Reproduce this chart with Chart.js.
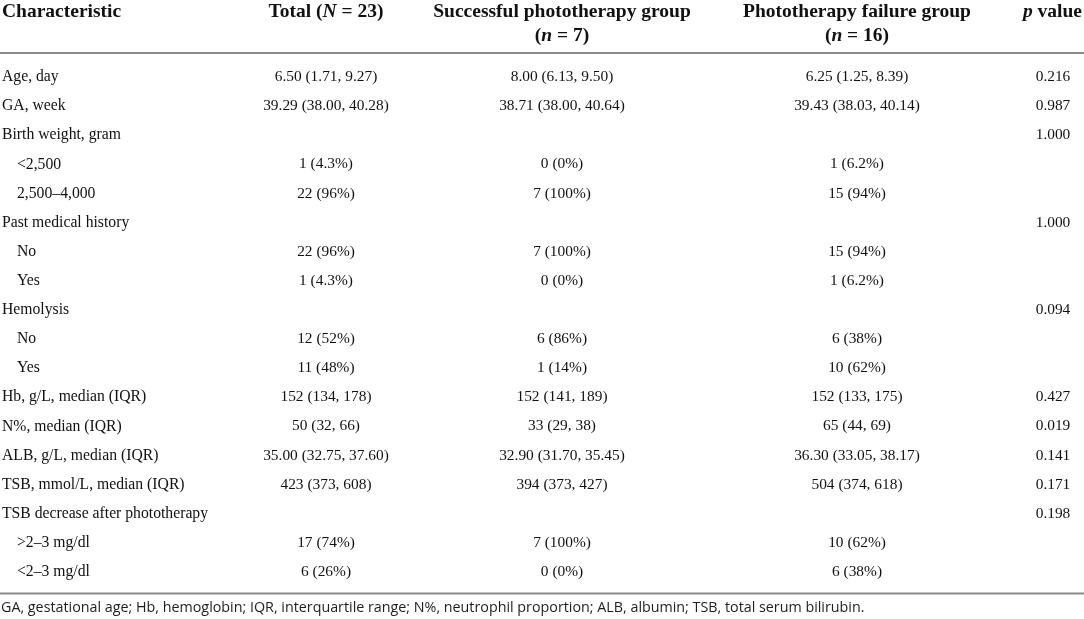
<!DOCTYPE html>
<html>
<head>
<meta charset="utf-8">
<script src="https://cdn.jsdelivr.net/npm/chart.js@4.4.1/dist/chart.umd.min.js"></script>
<style>
html,body{margin:0;padding:0;background:#ffffff;}
#wrap{width:1084px;height:619px;position:relative;}
</style>
</head>
<body>
<div id="wrap"><canvas id="c"></canvas></div>
<script>
// ---------- DATA ----------
const ROW_LABELS = [
  'Age, day', 'GA, week', 'Birth weight, gram', '<2,500', '2,500\u20134,000',
  'Past medical history', 'No', 'Yes', 'Hemolysis', 'No', 'Yes',
  'Hb, g/L, median (IQR)', 'N%, median (IQR)', 'ALB, g/L, median (IQR)',
  'TSB, mmol/L, median (IQR)', 'TSB decrease after phototherapy',
  '>2\u20133 mg/dl', '<2\u20133 mg/dl'
];
const ROW_LEVEL = [0,0,0,1,1,0,1,1,0,1,1,0,0,0,0,0,1,1];
const TOTAL = [
  '6.50 (1.71, 9.27)', '39.29 (38.00, 40.28)', '', '1 (4.3%)', '22 (96%)',
  '', '22 (96%)', '1 (4.3%)', '', '12 (52%)', '11 (48%)',
  '152 (134, 178)', '50 (32, 66)', '35.00 (32.75, 37.60)', '423 (373, 608)', '',
  '17 (74%)', '6 (26%)'
];
const SUCCESS = [
  '8.00 (6.13, 9.50)', '38.71 (38.00, 40.64)', '', '0 (0%)', '7 (100%)',
  '', '7 (100%)', '0 (0%)', '', '6 (86%)', '1 (14%)',
  '152 (141, 189)', '33 (29, 38)', '32.90 (31.70, 35.45)', '394 (373, 427)', '',
  '7 (100%)', '0 (0%)'
];
const FAILURE = [
  '6.25 (1.25, 8.39)', '39.43 (38.03, 40.14)', '', '1 (6.2%)', '15 (94%)',
  '', '15 (94%)', '1 (6.2%)', '', '6 (38%)', '10 (62%)',
  '152 (133, 175)', '65 (44, 69)', '36.30 (33.05, 38.17)', '504 (374, 618)', '',
  '10 (62%)', '6 (38%)'
];
const P_VALUES = [
  '0.216', '0.987', '1.000', '', '',
  '1.000', '', '', '0.094', '', '',
  '0.427', '0.019', '0.141', '0.171', '0.198',
  '', ''
];
const HEADERS = [
  [[{t:'Characteristic'}]],
  [[{t:'Total ('},{t:'N',i:true},{t:' = 23)'}]],
  [[{t:'Successful phototherapy group'}],[{t:'('},{t:'n',i:true},{t:' = 7)'}]],
  [[{t:'Phototherapy failure group'}],[{t:'('},{t:'n',i:true},{t:' = 16)'}]],
  [[{t:'p',i:true},{t:' value'}]]
];
const FOOTNOTE = 'GA, gestational age; Hb, hemoglobin; IQR, interquartile range; N%, neutrophil proportion; ALB, albumin; TSB, total serum bilirubin.';

// ---------- LAYOUT / STYLE ----------
const COL_WIDTHS = [210, 232, 240, 350, 42];
const CANVAS_W = 1084;
const SERIF = '"Liberation Serif", "Times New Roman", serif';
const BODY_FONT = '15.4px ' + SERIF;
const LABEL_FONT = '15.7px ' + SERIF;
const HEAD_SIZE = 19.5;
const TEXT_COLOR = '#111111';
const RULE_COLOR = '#8a8a8a';

function colCenter(k){
  let s = 0;
  for (let j = 0; j < k; j++) s += COL_WIDTHS[j];
  return s + COL_WIDTHS[k] / 2;
}

const COLUMNS = [TOTAL, SUCCESS, FAILURE, P_VALUES];

const tablePlugin = {
  id: 'tableText',
  afterDatasetsDraw(chart){
    const ctx = chart.ctx;
    const area = chart.chartArea;
    const xs = chart.scales.x, ys = chart.scales.y;
    ctx.save();
    ctx.fillStyle = TEXT_COLOR;
    ctx.textBaseline = 'middle';

    // body cells via dataset elements
    ctx.font = BODY_FONT;
    ctx.textAlign = 'center';
    chart.data.datasets.forEach((ds, di) => {
      const meta = chart.getDatasetMeta(di);
      meta.data.forEach((el, i) => {
        const t = ds.texts[i];
        if (t) ctx.fillText(t, el.x, el.y);
      });
    });

    // row labels
    ctx.font = LABEL_FONT;
    ctx.textAlign = 'left';
    ROW_LABELS.forEach((lab, i) => {
      ctx.fillText(lab, area.left + 2 + ROW_LEVEL[i] * 15, ys.getPixelForValue(i));
    });

    // headers
    ctx.textBaseline = 'alphabetic';
    const lineY = [area.top - 45.5, area.top - 21.5];
    HEADERS.forEach((lines, k) => {
      lines.forEach((runs, li) => {
        const fonts = runs.map(r => (r.i ? 'italic ' : '') + 'bold ' + HEAD_SIZE + 'px ' + SERIF);
        let w = 0;
        const widths = runs.map((r, ri) => { ctx.font = fonts[ri]; const m = ctx.measureText(r.t).width; w += m; return m; });
        let x;
        if (k === 0) x = area.left + 2;
        else if (k === HEADERS.length - 1) x = xs.getPixelForValue(CANVAS_W) - 2 - w;
        else x = xs.getPixelForValue(colCenter(k)) - w / 2;
        runs.forEach((r, ri) => {
          ctx.font = fonts[ri];
          ctx.textAlign = 'left';
          ctx.fillText(r.t, x, lineY[li]);
          x += widths[ri];
        });
      });
    });

    // rules
    ctx.strokeStyle = RULE_COLOR;
    ctx.lineWidth = 2;
    ctx.beginPath();
    ctx.moveTo(0, area.top - 9.5); ctx.lineTo(chart.width, area.top - 9.5);
    ctx.moveTo(0, area.bottom + 7); ctx.lineTo(chart.width, area.bottom + 7);
    ctx.stroke();

    // footnote
    ctx.textBaseline = 'middle';
    ctx.font = '14.3px "Open Sans", "Noto Sans", sans-serif';
    ctx.fillStyle = '#1e1e1e';
    ctx.textAlign = 'left';
    ctx.fillText(FOOTNOTE, area.left + 1, area.bottom + 21);
    ctx.restore();
  }
};

new Chart(document.getElementById('c'), {
  type: 'scatter',
  data: {
    datasets: COLUMNS.map((arr, k) => ({
      label: ['Total', 'Successful', 'Failure', 'p value'][k],
      data: arr.map((v, i) => ({x: colCenter(k + 1), y: i})),
      texts: arr,
      pointRadius: 0,
      pointHoverRadius: 0,
      showLine: false
    }))
  },
  options: {
    responsive: true,
    maintainAspectRatio: false,
    animation: false,
    events: [],
    layout: {padding: {top: 62.5, bottom: 32.5, left: 0, right: 0}},
    plugins: {legend: {display: false}, tooltip: {enabled: false}},
    scales: {
      x: {type: 'linear', min: 0, max: CANVAS_W, display: false},
      y: {type: 'linear', min: -0.5, max: ROW_LABELS.length - 0.5, reverse: true, display: false}
    }
  },
  plugins: [tablePlugin]
});
</script>
</body>
</html>
